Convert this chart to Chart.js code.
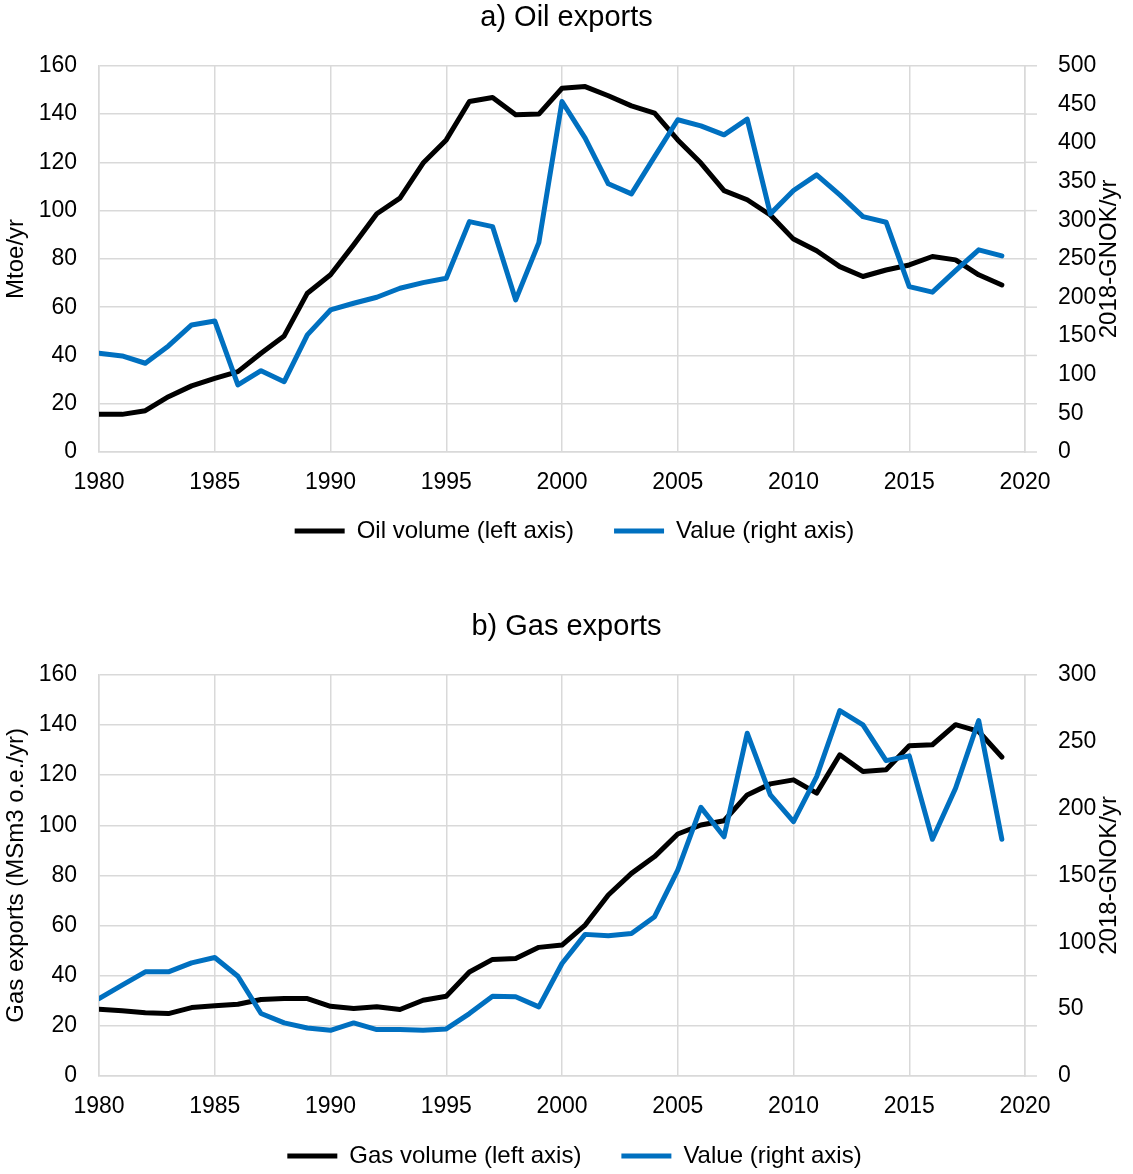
<!DOCTYPE html>
<html>
<head>
<meta charset="utf-8">
<script src="https://cdn.jsdelivr.net/npm/chart.js@4.4.1/dist/chart.umd.min.js"></script>
<style>
  html, body { margin: 0; padding: 0; background: #ffffff; }
  canvas { display: block; }
</style>
</head>
<body>
<canvas id="oil" width="1133" height="560"></canvas>
<canvas id="gas" width="1133" height="614"></canvas>
<script>
// ---------------- data ----------------
const years = [1980,1981,1982,1983,1984,1985,1986,1987,1988,1989,
               1990,1991,1992,1993,1994,1995,1996,1997,1998,1999,
               2000,2001,2002,2003,2004,2005,2006,2007,2008,2009,
               2010,2011,2012,2013,2014,2015,2016,2017,2018,2019];

// a) Oil exports
const oilVolume = [15.6,15.6,17.1,22.9,27.4,30.5,33.3,40.9,48.1,65.8,
                   73.4,85.8,98.7,105.2,119.7,129.3,145.2,146.9,139.7,140.0,
                   150.7,151.4,147.6,143.4,140.4,129.3,119.7,108.3,104.5,98.2,
                   88.2,83.4,76.8,72.7,75.4,77.5,81.0,79.6,73.4,69.2];
const oilValue = [127.8,124.4,114.9,137.3,164.5,169.7,86.8,105.3,91.1,151.6,
                  183.9,192.6,200.4,212.0,219.3,225.0,298.3,291.8,196.9,271.1,
                  453.8,406.3,347.2,334.2,382.5,430.1,422.3,410.6,430.9,308.3,
                  338.5,358.8,332.9,304.8,297.5,214.1,206.9,234.8,261.7,253.9];

// b) Gas exports
const gasVolume = [26.6,26.0,25.2,24.9,27.3,28.0,28.6,30.5,30.9,30.9,
                   27.8,26.9,27.6,26.5,30.2,31.8,41.5,46.5,46.9,51.3,
                   52.2,60.2,72.2,80.8,87.5,96.5,100.1,101.8,112.1,116.5,
                   118.1,112.8,128.1,121.4,122.1,131.7,132.1,140.1,137.4,127.2];
const gasValue = [57.9,67.9,77.9,77.9,84.6,88.6,74.6,46.7,39.7,35.9,
                  34.2,39.7,34.7,34.7,34.2,35.2,46.7,59.7,59.2,51.7,
                  84.1,105.9,104.8,106.6,119.1,154.0,200.9,178.9,256.3,210.2,
                  190.2,223.9,273.3,262.6,235.8,239.4,177.0,215.2,265.8,177.0];

// axis ranges / labels
const xRange = [1980, 2020];
const xStep = 5;
const leftRange = [0, 160];
const leftStep = 20;
const oilRightRange = [0, 500];
const gasRightRange = [0, 300];
const rightStep = 50;

const oilTitle = 'a) Oil exports';
const gasTitle = 'b) Gas exports';
const oilLeftTitle = 'Mtoe/yr';
const gasLeftTitle = 'Gas exports (MSm3 o.e./yr)';
const rightTitle = '2018-GNOK/yr';
const oilLabels = ['Oil volume (left axis)', 'Value (right axis)'];
const gasLabels = ['Gas volume (left axis)', 'Value (right axis)'];

// ---------------- styling ----------------
const FONT = '"Liberation Sans", Arial, Helvetica, sans-serif';
Chart.defaults.font.family = FONT;
Chart.defaults.color = '#000000';
const GRID = '#d9d9d9';
const BLACK = '#000000';
const BLUE = '#0070c0';
const LEGEND_PAD = 40;

const extrasPlugin = {
  id: 'extras',
  afterLayout(chart, args, opts) {
    // place the legend row at the wanted height
    const lg = chart.legend;
    if (lg && opts.legendCenter) {
      const h = LEGEND_PAD + 24 + 10;
      lg.top = opts.legendCenter - 12 - LEGEND_PAD;
      lg.bottom = lg.top + h;
      lg.height = h;
      lg.left += opts.legendShift;
      lg.right += opts.legendShift;
    }
  },
  beforeDatasetsDraw(chart) {
    // short grid stubs beyond the right border
    const y = chart.scales.y;
    const ctx = chart.ctx;
    const r = chart.chartArea.right;
    ctx.save();
    ctx.strokeStyle = GRID;
    ctx.lineWidth = 1.5;
    y.ticks.forEach(t => {
      const py = y.getPixelForValue(t.value);
      ctx.beginPath();
      ctx.moveTo(r, py);
      ctx.lineTo(r + 12, py);
      ctx.stroke();
    });
    ctx.restore();
  },
  afterDraw(chart, args, opts) {
    if (!opts || !opts.text) return;
    const s = chart.scales.y1;
    const ctx = chart.ctx;
    ctx.save();
    ctx.translate(s.right - opts.offset, (s.top + s.bottom) / 2);
    ctx.rotate(-Math.PI / 2);
    ctx.font = opts.size + 'px ' + FONT;
    ctx.fillStyle = '#000000';
    ctx.textAlign = 'center';
    ctx.textBaseline = 'middle';
    ctx.fillText(opts.text, 0, 0);
    ctx.restore();
  }
};

function pts(vals) {
  return years.map((yr, i) => ({ x: yr, y: vals[i] }));
}

function makeChart(id, title, leftTitle, labels, volume, value, rightRange, topPad, bottomPad, legendCenter) {
  return new Chart(document.getElementById(id), {
    type: 'line',
    data: {
      datasets: [
        {
          label: labels[0], data: pts(volume), yAxisID: 'y',
          borderColor: BLACK, backgroundColor: BLACK, borderWidth: 5,
          pointRadius: 0, tension: 0, borderCapStyle: 'round', borderJoinStyle: 'round',
          order: 1
        },
        {
          label: labels[1], data: pts(value), yAxisID: 'y1',
          borderColor: BLUE, backgroundColor: BLUE, borderWidth: 5,
          pointRadius: 0, tension: 0, borderCapStyle: 'round', borderJoinStyle: 'round',
          order: 0
        }
      ]
    },
    options: {
      responsive: false,
      animation: false,
      events: [],
      layout: { padding: { top: topPad, bottom: bottomPad, left: 0, right: 0 } },
      scales: {
        x: {
          type: 'linear', min: xRange[0], max: xRange[1],
          ticks: { stepSize: xStep, padding: 17, font: { size: 23 }, color: '#000',
                   maxRotation: 0, autoSkip: false, callback: v => String(v) },
          grid: { color: GRID, lineWidth: 1.5, drawTicks: false },
          border: { color: GRID, width: 1.5 },
          afterFit: s => { s.height = 50; }
        },
        y: {
          position: 'left', min: leftRange[0], max: leftRange[1],
          ticks: { stepSize: leftStep, padding: 22, font: { size: 23 }, color: '#000' },
          grid: { color: GRID, lineWidth: 1.5, drawTicks: false },
          border: { color: GRID, width: 1.5 },
          title: { display: true, text: leftTitle, font: { size: 24 }, color: '#000',
                   padding: { top: 2, bottom: 0 } },
          afterFit: s => { s.width = 99; }
        },
        y1: {
          position: 'right', min: rightRange[0], max: rightRange[1],
          ticks: { stepSize: rightStep, padding: 33, font: { size: 23 }, color: '#000' },
          grid: { display: false, drawTicks: false },
          border: { color: GRID, width: 1.5 },
          afterFit: s => { s.width = 108; }
        }
      },
      plugins: {
        title: { display: true, text: title, font: { size: 29, weight: 'normal' },
                 color: '#000', padding: { top: 1, bottom: 30 } },
        legend: {
          position: 'bottom',
          maxHeight: 48,
          labels: {
            usePointStyle: true, pointStyle: 'line', pointStyleWidth: 50,
            font: { size: 24 }, color: '#000', padding: LEGEND_PAD,
            sort: (a, b) => a.datasetIndex - b.datasetIndex
          }
        },
        tooltip: { enabled: false },
        extras: { text: rightTitle, offset: 24, size: 24, legendCenter: legendCenter, legendShift: 8 }
      }
    },
    plugins: [extrasPlugin]
  });
}

makeChart('oil', oilTitle, oilLeftTitle, oilLabels, oilVolume, oilValue, oilRightRange, 0, 10, 531);
makeChart('gas', gasTitle, gasLeftTitle, gasLabels, gasVolume, gasValue, gasRightRange, 49, 0, 596);
</script>
</body>
</html>
